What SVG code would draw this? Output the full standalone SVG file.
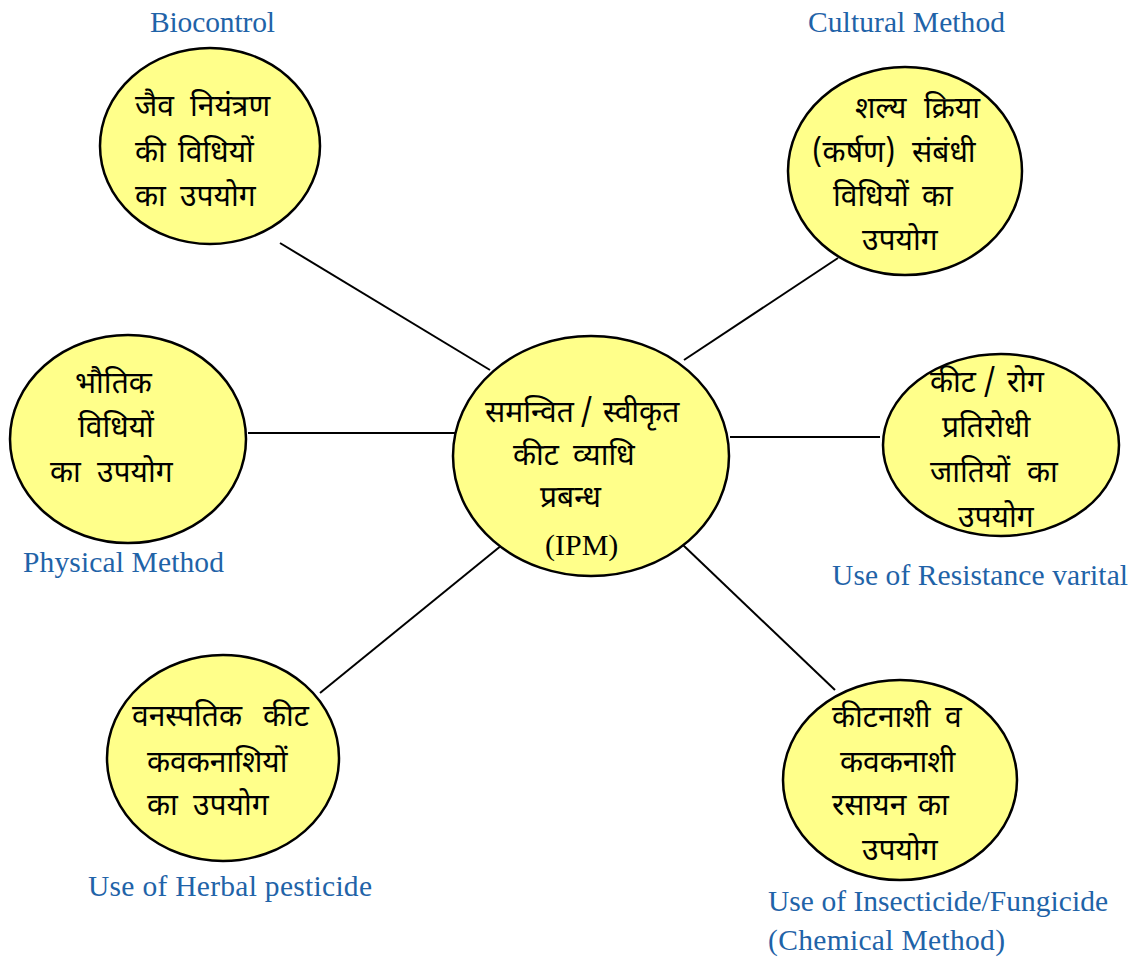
<svg xmlns="http://www.w3.org/2000/svg" width="1135" height="957" viewBox="0 0 1135 957">
<style>
.n{fill:#FFFF8A;stroke:#000;stroke-width:2.5}
.h{font-family:"Noto Sans Devanagari","Noto Sans","Lohit Devanagari",sans-serif;font-size:30px;fill:#000}
.l{font-family:"Liberation Serif",serif;font-size:29.5px;fill:#1F63A8}
.c line{stroke:#000;stroke-width:2}
</style>
<rect width="1135" height="957" fill="#fff"/>
<g class="c" id="connectors">
<line x1="280" y1="243" x2="490" y2="370"/>
<line x1="838" y1="258" x2="684" y2="360"/>
<line x1="248" y1="433" x2="455" y2="433"/>
<line x1="730" y1="437" x2="880" y2="437"/>
<line x1="320" y1="693" x2="502" y2="545"/>
<line x1="683" y1="545" x2="835" y2="690"/>
</g>
<g id="center">
<ellipse class="n" cx="591" cy="456" rx="138" ry="120"/>
<text class="h" y="422"><tspan x="485">समन्वित</tspan><tspan x="580">/</tspan><tspan x="603">स्वीकृत</tspan></text>
<text class="h" y="465"><tspan x="513">कीट</tspan><tspan x="573">व्याधि</tspan></text>
<text class="h" x="540" y="507">प्रबन्ध</text>
<text class="l" x="545" y="555" style="fill:#000;font-size:30px">(IPM)</text>
</g>
<g id="biocontrol">
<ellipse class="n" cx="210" cy="146" rx="110" ry="98"/>
<text class="h" y="116"><tspan x="135">जैव</tspan><tspan x="190">नियंत्रण</tspan></text>
<text class="h" y="162"><tspan x="135">की</tspan><tspan x="178">विधियों</tspan></text>
<text class="h" y="206"><tspan x="135">का</tspan><tspan x="180">उपयोग</tspan></text>
<text class="l" x="150" y="32" textLength="125" lengthAdjust="spacing">Biocontrol</text>
</g>
<g id="cultural">
<ellipse class="n" cx="905" cy="171" rx="117" ry="104"/>
<text class="h" y="118"><tspan x="855">शल्य</tspan><tspan x="924">क्रिया</tspan></text>
<text class="h" y="162"><tspan x="812">(कर्षण)</tspan><tspan x="912">संबंधी</tspan></text>
<text class="h" y="206"><tspan x="833">विधियों</tspan><tspan x="922">का</tspan></text>
<text class="h" x="862" y="250">उपयोग</text>
<text class="l" x="808" y="32" textLength="197" lengthAdjust="spacing">Cultural Method</text>
</g>
<g id="physical">
<ellipse class="n" cx="128" cy="439" rx="118" ry="104"/>
<text class="h" x="75" y="393">भौतिक</text>
<text class="h" x="78" y="437">विधियों</text>
<text class="h" y="482"><tspan x="50">का</tspan><tspan x="97">उपयोग</tspan></text>
<text class="l" x="23" y="572" textLength="201" lengthAdjust="spacing">Physical Method</text>
</g>
<g id="resistance">
<ellipse class="n" cx="1001" cy="445" rx="118" ry="91"/>
<text class="h" y="392"><tspan x="930">कीट</tspan><tspan x="983">/</tspan><tspan x="1007">रोग</tspan></text>
<text class="h" x="942" y="437">प्रतिरोधी</text>
<text class="h" y="482"><tspan x="930">जातियों</tspan><tspan x="1027">का</tspan></text>
<text class="h" x="958" y="527">उपयोग</text>
<text class="l" x="832" y="585" textLength="296" lengthAdjust="spacing">Use of Resistance varital</text>
</g>
<g id="herbal">
<ellipse class="n" cx="223" cy="758" rx="116" ry="103"/>
<text class="h" y="726"><tspan x="132">वनस्पतिक</tspan><tspan x="263">कीट</tspan></text>
<text class="h" x="147" y="772">कवकनाशियों</text>
<text class="h" y="815"><tspan x="147">का</tspan><tspan x="193">उपयोग</tspan></text>
<text class="l" x="88" y="896" textLength="284" lengthAdjust="spacing">Use of Herbal pesticide</text>
</g>
<g id="chemical">
<ellipse class="n" cx="900" cy="780" rx="117" ry="100"/>
<text class="h" y="727"><tspan x="832">कीटनाशी</tspan><tspan x="945">व</tspan></text>
<text class="h" x="840" y="772">कवकनाशी</text>
<text class="h" y="815"><tspan x="832">रसायन</tspan><tspan x="918">का</tspan></text>
<text class="h" x="862" y="860">उपयोग</text>
<text class="l" x="768" y="911" textLength="340" lengthAdjust="spacing">Use of Insecticide/Fungicide</text>
<text class="l" x="768" y="950" textLength="237" lengthAdjust="spacing">(Chemical Method)</text>
</g>
</svg>
